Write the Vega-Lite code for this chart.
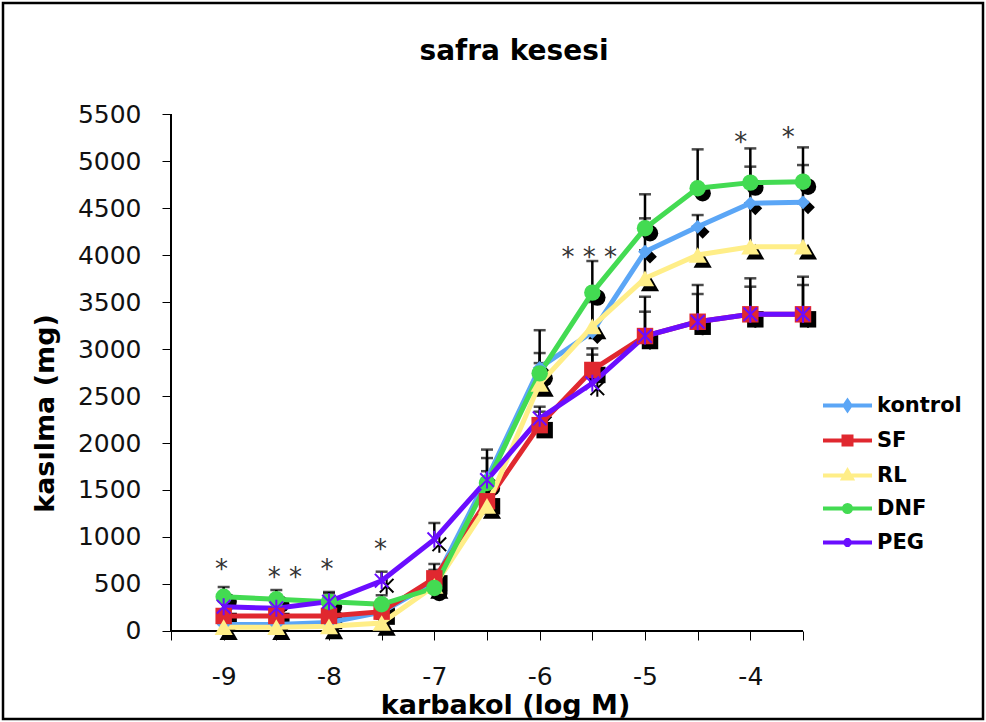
{
 "$schema": "https://vega.github.io/schema/vega-lite/v6.json",
 "width": 980,
 "height": 716,
 "autosize": {"type": "none"},
 "padding": {"left": 3, "top": 3, "right": 3, "bottom": 3},
 "background": "white",
 "config": {"view": {"stroke": "black", "strokeWidth": 2.5}, "font": "DejaVu Sans"},
 "title": {"text": "safra kesesi", "fontSize": 28, "fontWeight": "bold", "font": "DejaVu Sans", "color": "black", "anchor": "middle", "frame": "group", "offset": -63, "dx": 21},
 "data": {"values": [
  {"s": "kontrol", "x": -9, "v": 70, "hi": 120},
  {"s": "kontrol", "x": -8.5, "v": 70, "hi": 120},
  {"s": "kontrol", "x": -8, "v": 90, "hi": 150},
  {"s": "kontrol", "x": -7.5, "v": 200, "hi": 300},
  {"s": "kontrol", "x": -7, "v": 520, "hi": 650},
  {"s": "kontrol", "x": -6.5, "v": 1620, "hi": 1930},
  {"s": "kontrol", "x": -6, "v": 2800, "hi": 3200},
  {"s": "kontrol", "x": -5.5, "v": 3180, "hi": 3560},
  {"s": "kontrol", "x": -5, "v": 4035, "hi": 4390},
  {"s": "kontrol", "x": -4.5, "v": 4300, "hi": 4425},
  {"s": "kontrol", "x": -4, "v": 4550, "hi": 4940},
  {"s": "kontrol", "x": -3.5, "v": 4560, "hi": 4957},
  {"s": "SF", "x": -9, "v": 160, "hi": 220},
  {"s": "SF", "x": -8.5, "v": 160, "hi": 220},
  {"s": "SF", "x": -8, "v": 160, "hi": 220},
  {"s": "SF", "x": -7.5, "v": 206, "hi": 280},
  {"s": "SF", "x": -7, "v": 560, "hi": 713},
  {"s": "SF", "x": -6.5, "v": 1380, "hi": 1600},
  {"s": "SF", "x": -6, "v": 2190, "hi": 2386},
  {"s": "SF", "x": -5.5, "v": 2777, "hi": 3007},
  {"s": "SF", "x": -5, "v": 3138, "hi": 3556},
  {"s": "SF", "x": -4.5, "v": 3290, "hi": 3681},
  {"s": "SF", "x": -4, "v": 3369, "hi": 3752},
  {"s": "SF", "x": -3.5, "v": 3369, "hi": 3769},
  {"s": "RL", "x": -9, "v": 40, "hi": 80},
  {"s": "RL", "x": -8.5, "v": 40, "hi": 80},
  {"s": "RL", "x": -8, "v": 50, "hi": 90},
  {"s": "RL", "x": -7.5, "v": 85, "hi": 130},
  {"s": "RL", "x": -7, "v": 480, "hi": 560},
  {"s": "RL", "x": -6.5, "v": 1330, "hi": 1500},
  {"s": "RL", "x": -6, "v": 2630, "hi": 2850},
  {"s": "RL", "x": -5.5, "v": 3240, "hi": 3500},
  {"s": "RL", "x": -5, "v": 3752, "hi": 4050},
  {"s": "RL", "x": -4.5, "v": 4000, "hi": 4300},
  {"s": "RL", "x": -4, "v": 4088, "hi": 4550},
  {"s": "RL", "x": -3.5, "v": 4088, "hi": 4550},
  {"s": "DNF", "x": -9, "v": 365, "hi": 468},
  {"s": "DNF", "x": -8.5, "v": 337, "hi": 436},
  {"s": "DNF", "x": -8, "v": 312, "hi": 415},
  {"s": "DNF", "x": -7.5, "v": 284, "hi": 380},
  {"s": "DNF", "x": -7, "v": 457, "hi": 560},
  {"s": "DNF", "x": -6.5, "v": 1574, "hi": 1700},
  {"s": "DNF", "x": -6, "v": 2741, "hi": 2957},
  {"s": "DNF", "x": -5.5, "v": 3600, "hi": 3936},
  {"s": "DNF", "x": -5, "v": 4284, "hi": 4646},
  {"s": "DNF", "x": -4.5, "v": 4710, "hi": 5124},
  {"s": "DNF", "x": -4, "v": 4770, "hi": 5134},
  {"s": "DNF", "x": -3.5, "v": 4780, "hi": 5145},
  {"s": "PEG", "x": -9, "v": 259, "hi": 330},
  {"s": "PEG", "x": -8.5, "v": 241, "hi": 300},
  {"s": "PEG", "x": -8, "v": 312, "hi": 400},
  {"s": "PEG", "x": -7.5, "v": 535, "hi": 631},
  {"s": "PEG", "x": -7, "v": 975, "hi": 1149},
  {"s": "PEG", "x": -6.5, "v": 1606, "hi": 1840},
  {"s": "PEG", "x": -6, "v": 2262, "hi": 2333},
  {"s": "PEG", "x": -5.5, "v": 2635, "hi": 2940},
  {"s": "PEG", "x": -5, "v": 3138, "hi": 3397},
  {"s": "PEG", "x": -4.5, "v": 3290, "hi": 3585},
  {"s": "PEG", "x": -4, "v": 3369, "hi": 3663},
  {"s": "PEG", "x": -3.5, "v": 3369, "hi": 3681}
 ]},
 "encoding": {
  "x": {"field": "x", "type": "quantitative",
   "scale": {"domain": [-11.0949, -1.7911], "nice": false, "zero": false},
   "axis": {"orient": "bottom", "offset": -88, "domain": false, "grid": false,
    "values": [-9.5, -9, -8.5, -8, -7.5, -7, -6.5, -6, -5.5, -5, -4.5, -4, -3.5],
    "tickSize": 9, "tickColor": "black", "tickWidth": 1,
    "labelExpr": "datum.value % 1 === 0 ? '' + datum.value : ''",
    "labelFont": "DejaVu Sans", "labelFontSize": 25, "labelColor": "#111", "labelPadding": 24,
    "labelOverlap": false, "labelFlush": false, "labelBound": false,
    "title": "karbakol (log M)", "titleFont": "DejaVu Sans", "titleFontSize": 27, "titleFontWeight": "bold", "titleColor": "black",
    "titleX": 502, "titleY": 74, "titleAlign": "center", "titleBaseline": "middle", "titleAngle": 0}},
  "y": {"field": "v", "type": "quantitative",
   "scale": {"domain": [-936.2, 6680.9], "nice": false, "zero": false},
   "axis": {"orient": "left", "offset": -168, "domain": false, "grid": false,
    "values": [0, 500, 1000, 1500, 2000, 2500, 3000, 3500, 4000, 4500, 5000, 5500],
    "format": "d", "tickSize": 9, "tickColor": "black", "tickWidth": 1,
    "labelFont": "DejaVu Sans", "labelFontSize": 25, "labelColor": "#111", "labelPadding": 21,
    "labelOverlap": false, "labelBound": false, "labelFlush": false,
    "title": "kasılma (mg)", "titleFont": "DejaVu Sans", "titleFontSize": 27, "titleFontWeight": "bold", "titleColor": "black",
    "titleX": -126, "titleY": 410, "titleAngle": 270, "titleAlign": "center", "titleBaseline": "middle"}}
 },
 "layer": [
  {
   "mark": {"type": "rule", "color": "black", "strokeWidth": 2.5},
   "encoding": {"y2": {"field": "hi"}}
  },
  {
   "mark": {"type": "tick", "orient": "horizontal", "color": "black", "thickness": 2.5, "size": 12},
   "encoding": {
    "y": {"field": "hi", "type": "quantitative",
     "scale": {"domain": [-936.2, 6680.9], "nice": false, "zero": false},
     "axis": {"orient": "left", "offset": -168, "domain": false, "grid": false,
      "values": [0, 500, 1000, 1500, 2000, 2500, 3000, 3500, 4000, 4500, 5000, 5500],
      "format": "d", "tickSize": 9, "tickColor": "black", "tickWidth": 1,
      "labelFont": "DejaVu Sans", "labelFontSize": 25, "labelColor": "#111", "labelPadding": 21,
      "labelOverlap": false, "labelBound": false, "labelFlush": false,
      "title": "kasılma (mg)", "titleFont": "DejaVu Sans", "titleFontSize": 27, "titleFontWeight": "bold", "titleColor": "black",
      "titleX": -126, "titleY": 410, "titleAngle": 270, "titleAlign": "center", "titleBaseline": "middle"}}
   }
  },
  {
   "mark": {"type": "rule", "color": "black", "strokeWidth": 1.2},
   "encoding": {
    "x": {"datum": -9.5, "type": "quantitative",
     "scale": {"domain": [-11.0949, -1.7911], "nice": false, "zero": false},
     "axis": {"orient": "bottom", "offset": -88, "domain": false, "grid": false,
      "values": [-9.5, -9, -8.5, -8, -7.5, -7, -6.5, -6, -5.5, -5, -4.5, -4, -3.5],
      "tickSize": 9, "tickColor": "black", "tickWidth": 1,
      "labelExpr": "datum.value % 1 === 0 ? '' + datum.value : ''",
      "labelFont": "DejaVu Sans", "labelFontSize": 25, "labelColor": "#111", "labelPadding": 24,
      "labelOverlap": false, "labelFlush": false, "labelBound": false,
      "title": "karbakol (log M)", "titleFont": "DejaVu Sans", "titleFontSize": 27, "titleFontWeight": "bold", "titleColor": "black",
      "titleX": 502, "titleY": 74, "titleAlign": "center", "titleBaseline": "middle", "titleAngle": 0}},
    "y": {"datum": 0, "type": "quantitative",
     "scale": {"domain": [-936.2, 6680.9], "nice": false, "zero": false},
     "axis": {"orient": "left", "offset": -168, "domain": false, "grid": false,
      "values": [0, 500, 1000, 1500, 2000, 2500, 3000, 3500, 4000, 4500, 5000, 5500],
      "format": "d", "tickSize": 9, "tickColor": "black", "tickWidth": 1,
      "labelFont": "DejaVu Sans", "labelFontSize": 25, "labelColor": "#111", "labelPadding": 21,
      "labelOverlap": false, "labelBound": false, "labelFlush": false,
      "title": "kasılma (mg)", "titleFont": "DejaVu Sans", "titleFontSize": 27, "titleFontWeight": "bold", "titleColor": "black",
      "titleX": -126, "titleY": 410, "titleAngle": 270, "titleAlign": "center", "titleBaseline": "middle"}},
    "y2": {"datum": 5500}
   }
  },
  {
   "mark": {"type": "rule", "color": "black", "strokeWidth": 1.2},
   "encoding": {
    "x": {"datum": -9.5, "type": "quantitative",
     "scale": {"domain": [-11.0949, -1.7911], "nice": false, "zero": false},
     "axis": {"orient": "bottom", "offset": -88, "domain": false, "grid": false,
      "values": [-9.5, -9, -8.5, -8, -7.5, -7, -6.5, -6, -5.5, -5, -4.5, -4, -3.5],
      "tickSize": 9, "tickColor": "black", "tickWidth": 1,
      "labelExpr": "datum.value % 1 === 0 ? '' + datum.value : ''",
      "labelFont": "DejaVu Sans", "labelFontSize": 25, "labelColor": "#111", "labelPadding": 24,
      "labelOverlap": false, "labelFlush": false, "labelBound": false,
      "title": "karbakol (log M)", "titleFont": "DejaVu Sans", "titleFontSize": 27, "titleFontWeight": "bold", "titleColor": "black",
      "titleX": 502, "titleY": 74, "titleAlign": "center", "titleBaseline": "middle", "titleAngle": 0}},
    "x2": {"datum": -3.5},
    "y": {"datum": 0, "type": "quantitative",
     "scale": {"domain": [-936.2, 6680.9], "nice": false, "zero": false},
     "axis": {"orient": "left", "offset": -168, "domain": false, "grid": false,
      "values": [0, 500, 1000, 1500, 2000, 2500, 3000, 3500, 4000, 4500, 5000, 5500],
      "format": "d", "tickSize": 9, "tickColor": "black", "tickWidth": 1,
      "labelFont": "DejaVu Sans", "labelFontSize": 25, "labelColor": "#111", "labelPadding": 21,
      "labelOverlap": false, "labelBound": false, "labelFlush": false,
      "title": "kasılma (mg)", "titleFont": "DejaVu Sans", "titleFontSize": 27, "titleFontWeight": "bold", "titleColor": "black",
      "titleX": -126, "titleY": 410, "titleAngle": 270, "titleAlign": "center", "titleBaseline": "middle"}}
   }
  },
  {"transform": [{"filter": "datum.s === 'kontrol'"}], "mark": {"type": "point", "shape": "diamond", "size": 190, "filled": true, "color": "black", "opacity": 1, "xOffset": 5, "yOffset": 5}, "encoding": {}},
  {"transform": [{"filter": "datum.s === 'SF'"}], "mark": {"type": "point", "shape": "square", "size": 270, "filled": true, "color": "black", "opacity": 1, "xOffset": 5, "yOffset": 5}, "encoding": {}},
  {"transform": [{"filter": "datum.s === 'RL'"}], "mark": {"type": "point", "shape": "triangle-up", "size": 330, "filled": true, "color": "black", "opacity": 1, "xOffset": 5, "yOffset": 5}, "encoding": {}},
  {"transform": [{"filter": "datum.s === 'DNF'"}], "mark": {"type": "point", "shape": "circle", "size": 270, "filled": true, "color": "black", "opacity": 1, "xOffset": 5, "yOffset": 5}, "encoding": {}},
  {"transform": [{"filter": "datum.s === 'PEG'"}], "mark": {"type": "point", "shape": "M0,-1L0,1M-0.8,-0.8L0.8,0.8M-0.8,0.8L0.8,-0.8", "size": 289, "filled": false, "color": "black", "strokeWidth": 2, "opacity": 1, "xOffset": 5, "yOffset": 5}, "encoding": {}},
  {
   "mark": {"type": "line", "strokeWidth": 5},
   "encoding": {
    "color": {"field": "s", "type": "nominal",
     "scale": {"domain": ["kontrol", "SF", "RL", "DNF", "PEG"], "range": ["#5BA6F6", "#E0282F", "#FFEE88", "#43DB52", "#6A0DFF"]},
     "legend": {"orient": "none", "legendX": 818, "legendY": 392, "title": null, "padding": 0,
      "symbolSize": 100, "symbolStrokeWidth": 4, "symbolOffset": 16,
      "labelFont": "DejaVu Sans", "labelFontWeight": "bold", "labelFontSize": 21, "labelColor": "black", "labelOffset": 19, "rowPadding": 10,
      "encode": {"symbols": {"update": {
       "shape": {"signal": "datum.value === 'kontrol' ? 'M-4.9,0L4.9,0M0,-0.9L0.6,0L0,0.9L-0.6,0Z' : datum.value === 'SF' ? 'M-4.9,0L4.9,0M-0.8,-0.8L0.8,-0.8L0.8,0.8L-0.8,0.8Z' : datum.value === 'RL' ? 'M-4.9,0L4.9,0M0,-0.9L0.85,0.6L-0.85,0.6Z' : datum.value === 'DNF' ? 'M-4.9,0L4.9,0M-0.7,0A0.7,0.7 0 1,0 0.7,0A0.7,0.7 0 1,0 -0.7,0Z' : 'M-4.9,0L4.9,0M0,-0.9L0,0.9M-0.6,-0.6L0.6,0.6M-0.6,0.6L0.6,-0.6'"},
       "fill": {"scale": "color", "field": "value"},
       "stroke": {"scale": "color", "field": "value"},
       "strokeWidth": {"value": 4},
       "size": {"value": 100},
       "opacity": {"value": 1}
      }}}
     }}
   }
  },
  {"transform": [{"filter": "datum.s === 'kontrol'"}], "mark": {"type": "point", "shape": "diamond", "size": 190, "filled": true, "opacity": 1}, "encoding": {"color": {"field": "s", "type": "nominal", "scale": {"domain": ["kontrol", "SF", "RL", "DNF", "PEG"], "range": ["#5BA6F6", "#E0282F", "#FFEE88", "#43DB52", "#6A0DFF"]}}}},
  {"transform": [{"filter": "datum.s === 'SF'"}], "mark": {"type": "point", "shape": "square", "size": 270, "filled": true, "opacity": 1}, "encoding": {"color": {"field": "s", "type": "nominal", "scale": {"domain": ["kontrol", "SF", "RL", "DNF", "PEG"], "range": ["#5BA6F6", "#E0282F", "#FFEE88", "#43DB52", "#6A0DFF"]}}}},
  {"transform": [{"filter": "datum.s === 'RL'"}], "mark": {"type": "point", "shape": "triangle-up", "size": 330, "filled": true, "opacity": 1}, "encoding": {"color": {"field": "s", "type": "nominal", "scale": {"domain": ["kontrol", "SF", "RL", "DNF", "PEG"], "range": ["#5BA6F6", "#E0282F", "#FFEE88", "#43DB52", "#6A0DFF"]}}}},
  {"transform": [{"filter": "datum.s === 'DNF'"}], "mark": {"type": "point", "shape": "circle", "size": 270, "filled": true, "opacity": 1}, "encoding": {"color": {"field": "s", "type": "nominal", "scale": {"domain": ["kontrol", "SF", "RL", "DNF", "PEG"], "range": ["#5BA6F6", "#E0282F", "#FFEE88", "#43DB52", "#6A0DFF"]}}}},
  {"transform": [{"filter": "datum.s === 'PEG'"}], "mark": {"type": "point", "shape": "M0,-1L0,1M-0.8,-0.8L0.8,0.8M-0.8,0.8L0.8,-0.8", "size": 289, "filled": false, "strokeWidth": 2, "opacity": 1}, "encoding": {"color": {"field": "s", "type": "nominal", "scale": {"domain": ["kontrol", "SF", "RL", "DNF", "PEG"], "range": ["#5BA6F6", "#E0282F", "#FFEE88", "#43DB52", "#6A0DFF"]}}}},
  {
   "data": {"values": [
    {"x": -9.02, "v": 713, "t": "*"},
    {"x": -8.42, "v": 624, "t": "* *"},
    {"x": -8.02, "v": 713, "t": "*"},
    {"x": -7.51, "v": 925, "t": "*"},
    {"x": -5.53, "v": 4029, "t": "* * *"},
    {"x": -4.09, "v": 5252, "t": "*"},
    {"x": -3.64, "v": 5305, "t": "*"}
   ]},
   "mark": {"type": "text", "font": "DejaVu Sans", "fontSize": 26, "color": "#333", "dy": 6},
   "encoding": {"text": {"field": "t"}}
  }
 ]
}
